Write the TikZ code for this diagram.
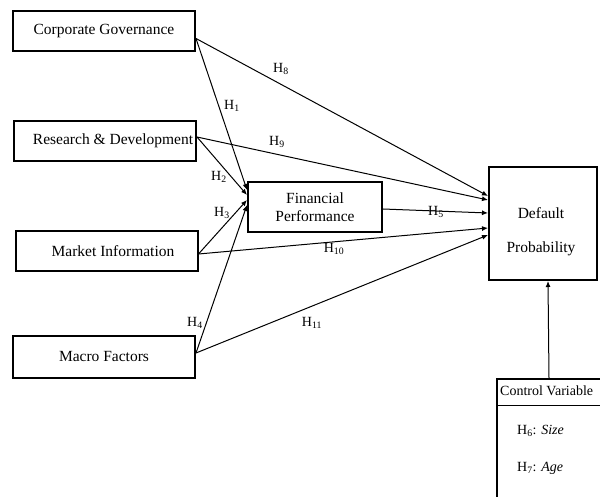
\documentclass[tikz,border=0pt]{standalone}
\usepackage{fontspec}
\setmainfont{Liberation Serif}
\usetikzlibrary{arrows.meta}
\begin{document}
\begin{tikzpicture}[x=1pt,y=-1pt,
  box/.style={draw,line width=2pt,minimum width=182pt,minimum height=40pt,inner sep=0pt,font=\fontsize{15.5}{18}\selectfont},
  conn/.style={line width=1pt,-{Latex[length=6pt,width=5pt]}},
  hyp/.style={font=\fontsize{14}{16}\selectfont,inner sep=0pt},
  txt/.style={font=\fontsize{15.5}{18}\selectfont,inner sep=0pt},
  cvtxt/.style={font=\fontsize{14}{16}\selectfont,inner sep=0pt,anchor=west}]
\clip (0,0) rectangle (600,497);
\useasboundingbox (0,0) rectangle (600,497);
\fill[white] (0,0) rectangle (600,497);
% boxes
\node[box] (cg) at (104,31.5) {Corporate Governance};
\node[box] (rd) at (105,141) {\hspace*{16pt}Research \& Development};
\node[box] (mi) at (106.5,251) {\hspace*{13pt}Market Information};
\node[box,minimum height=42pt] (mf) at (104,357) {Macro Factors};
\node[box,minimum width=134pt,minimum height=50pt,align=center] (fp) at (315,207) {Financial\\Performance};
\node[box,minimum width=108pt,minimum height=113pt] (dp) at (543,223.5) {};
\node[txt] (dpa) at (541,213) {Default};
\node[txt] (dpb) at (541,249) {Probability};
% control variable box
\node[draw,line width=2pt,minimum width=120pt,minimum height=140pt,anchor=north west,inner sep=0pt] (cv) at (496,378) {};
\draw[line width=0.8pt] ([yshift=-27pt]cv.north west) -- ([yshift=-27pt]cv.north east);
\node[cvtxt] (cvh) at (500,391) {Control Variable};
\node[cvtxt] (cv1) at (517,431) {H\textsubscript{6}: \textit{Size}};
\node[cvtxt] (cv2) at (517,468) {H\textsubscript{7}: \textit{Age}};
% connectors
\draw[conn] ([yshift=-7pt]cg.east) -- ([yshift=17pt]fp.west);
\draw[conn] ([yshift=-7pt]cg.east) -- ([yshift=27.5pt]dp.west);
\draw[conn] ([yshift=4pt]rd.east) -- ([yshift=12pt]fp.west);
\draw[conn] ([yshift=4pt]rd.east) -- ([yshift=23.5pt]dp.west);
\draw[conn] ([yshift=-3pt]mi.east) -- ([yshift=7pt]fp.west);
\draw[conn] ([yshift=-3pt]mi.east) -- ([yshift=-4.5pt]dp.west);
\draw[conn] ([yshift=4pt]mf.east) -- ([yshift=2pt]fp.west);
\draw[conn] ([yshift=4pt]mf.east) -- ([yshift=-11.5pt]dp.west);
\draw[conn] ([yshift=-2pt]fp.east) -- ([yshift=10.5pt]dp.west);
\draw[conn] ([xshift=-8pt]cv.north) -- ([xshift=5pt]dp.south);
% hypothesis labels
\node[hyp] (h1) at (232,106) {H\textsubscript{1}};
\node[hyp] (h2) at (219,177) {H\textsubscript{2}};
\node[hyp] (h3) at (222,213) {H\textsubscript{3}};
\node[hyp] (h4) at (195,323) {H\textsubscript{4}};
\node[hyp] (h5) at (436,212) {H\textsubscript{5}};
\node[hyp] (h8) at (281,69) {H\textsubscript{8}};
\node[hyp] (h9) at (277,142) {H\textsubscript{9}};
\node[hyp] (h10) at (334,249) {H\textsubscript{10}};
\node[hyp] (h11) at (312,323) {H\textsubscript{11}};
\end{tikzpicture}
\end{document}
